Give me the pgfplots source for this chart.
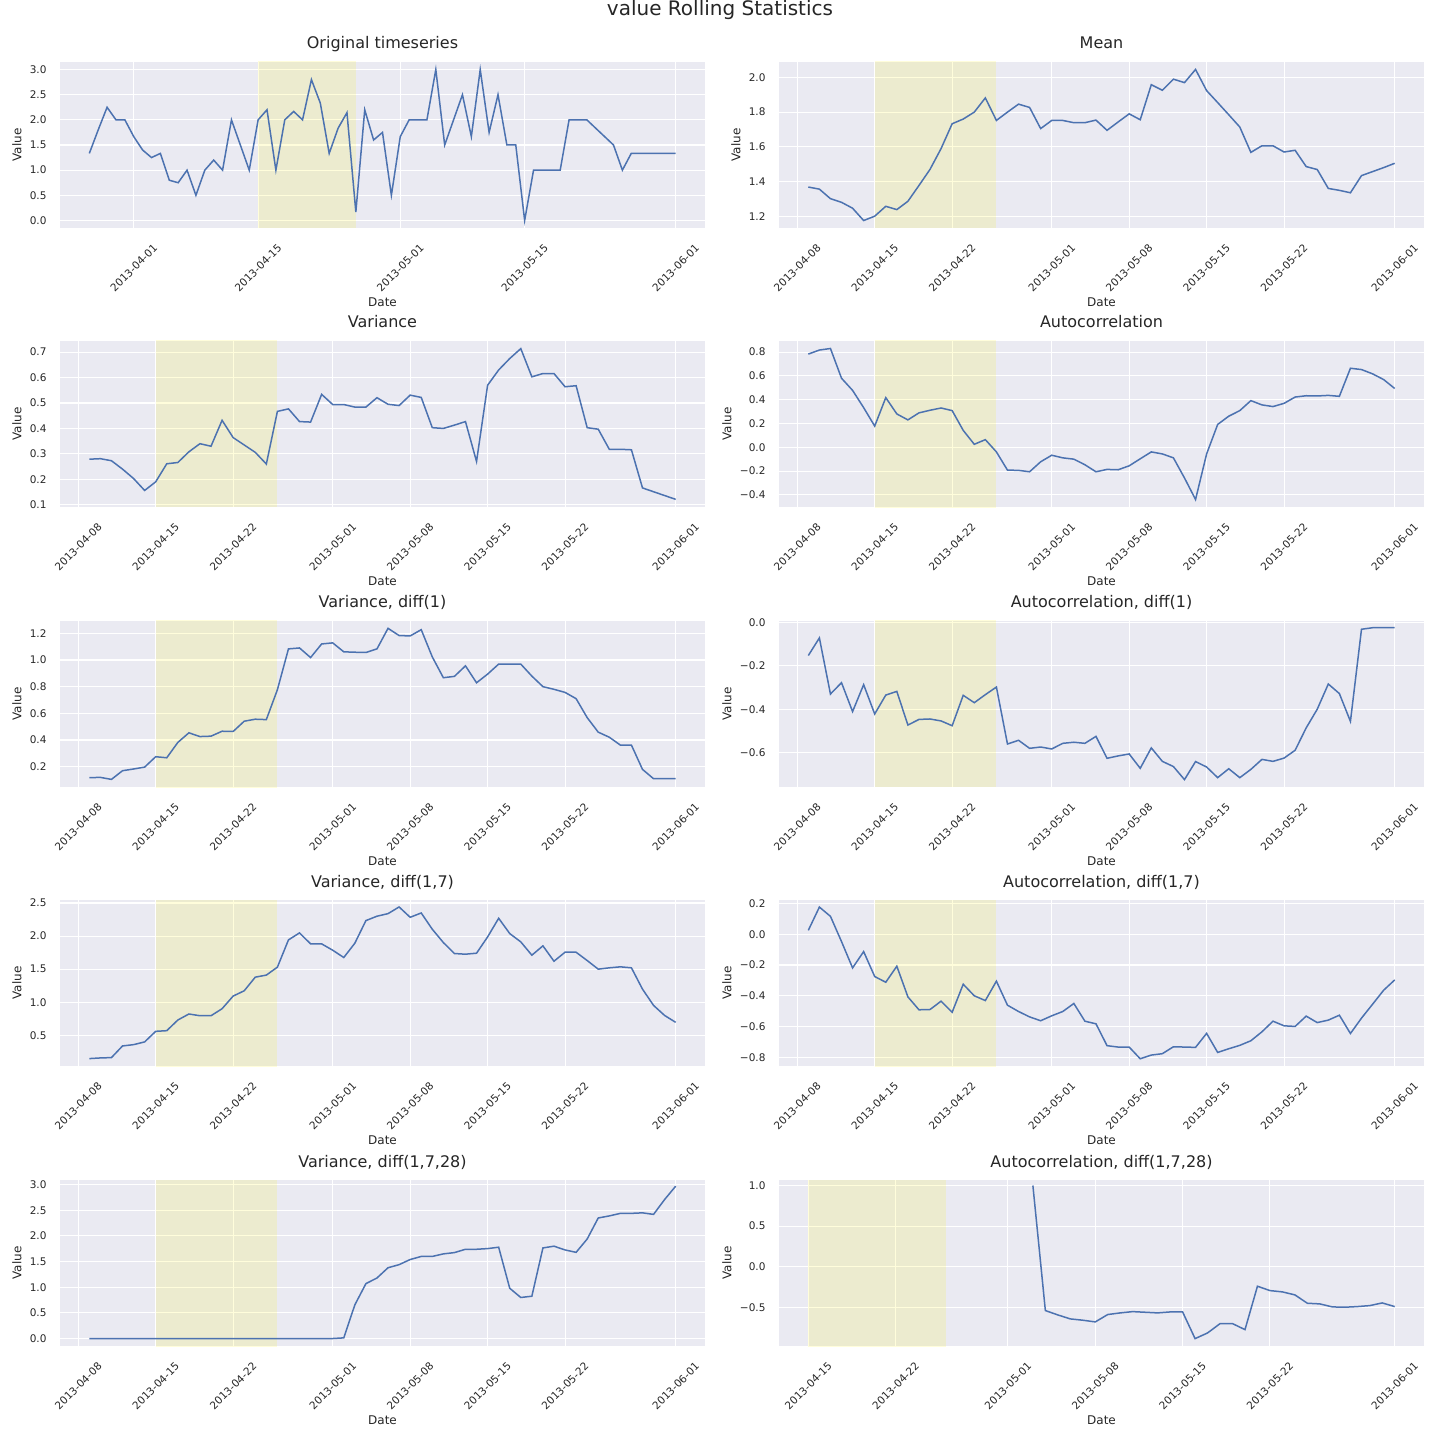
\documentclass[border=0pt]{standalone}
\usepackage{fontspec}
\setmainfont{DejaVu Sans}
\usepackage{pgfplots}
\pgfplotsset{compat=1.18}
\definecolor{bgc}{HTML}{EAEAF2}
\definecolor{tc}{HTML}{262626}
\definecolor{lc}{HTML}{4C72B0}
\pgfplotsset{
 rs/.style={
  scale only axis, width=645pt, height=166pt, anchor=north west,
  axis background/.style={fill=bgc},
  axis line style={draw=none},
  xmajorgrids, ymajorgrids,
  major grid style={white, line width=1.1pt},
  major tick length=0pt,
  tick style={draw=none},
  /pgf/number format/assume math mode=true,
  tick label style={font=\fontsize{10.5}{12}\selectfont, text=tc},
  xticklabel style={anchor=center, yshift=-40pt, rotate=45},
  yticklabel style={anchor=east, xshift=-10pt},
  xlabel={Date}, ylabel={Value},
  every axis x label/.style={at={(axis description cs:0.5,-0.446)}, anchor=center, font=\fontsize{12}{14}\selectfont, text=tc},
  every axis y label/.style={at={(axis description cs:-0.0667,0.5)}, anchor=center, rotate=90, font=\fontsize{12}{14}\selectfont, text=tc},
  title style={at={(axis description cs:0.5,1)}, anchor=base, yshift=7pt, font=\fontsize{16}{19}\selectfont, text=tc},
  xtick={7,14,21,30,37,44,51,61},
  xticklabels={2013-04-08,2013-04-15,2013-04-22,2013-05-01,2013-05-08,2013-05-15,2013-05-22,2013-06-01},
  xmin=5.35, xmax=63.65,
 },
 negy/.style={every axis y label/.style={at={(axis description cs:-0.0806,0.5)}, anchor=center, rotate=90, font=\fontsize{12}{14}\selectfont, text=tc}},
 ser/.style={lc, line width=1.5pt, mark=none},
 span/.style={draw=none, fill=yellow, fill opacity=0.14, forget plot},
}
\begin{document}
\begin{tikzpicture}
\useasboundingbox (0pt,0pt) rectangle (1440pt,-1440pt);
\node[font=\fontsize{20}{24}\selectfont, text=tc, anchor=base] at (720pt,-15.5pt) {value Rolling Statistics};

% ---------- Row 1 left: Original ----------
\begin{axis}[rs, at={(60pt,-62pt)}, title={Original timeseries},
  xmin=-8.3, xmax=64.3, xtick={0,14,30,44,61},
  xticklabels={2013-04-01,2013-04-15,2013-05-01,2013-05-15,2013-06-01},
  ymin=-0.15, ymax=3.15, ytick={0,0.5,1,1.5,2,2.5,3},
  yticklabels={0.0,0.5,1.0,1.5,2.0,2.5,3.0}]
\addplot[span] coordinates {(14,-5) (25,-5) (25,5) (14,5)} -- cycle;
\addplot[ser] table {
x y
-5 1.333
-4 1.8
-3 2.25
-2 2.0
-1 2.0
0 1.667
1 1.4
2 1.25
3 1.333
4 0.8
5 0.75
6 1.0
7 0.5
8 1.0
9 1.2
10 1.0
11 2.0
12 1.5
13 1.0
14 2.0
15 2.2
16 1.0
17 2.0
18 2.167
19 2.0
20 2.8
21 2.333
22 1.333
23 1.833
24 2.143
25 0.167
26 2.2
27 1.6
28 1.75
29 0.5
30 1.667
31 2.0
32 2.0
33 2.0
34 3.0
35 1.5
36 2.0
37 2.5
38 1.667
39 3.0
40 1.75
41 2.5
42 1.5
43 1.5
44 0.0
45 1.0
46 1.0
47 1.0
48 1.0
49 2.0
50 2.0
51 2.0
52 1.833
53 1.667
54 1.5
55 1.0
56 1.333
57 1.333
58 1.333
59 1.333
60 1.333
61 1.333
};
\end{axis}

% ---------- Row 1 right: Mean ----------
\begin{axis}[rs, at={(779pt,-62pt)}, title={Mean},
  ymin=1.132, ymax=2.089, ytick={1.2,1.4,1.6,1.8,2.0},
  yticklabels={1.2,1.4,1.6,1.8,2.0}]
\addplot[span] coordinates {(14,-5) (25,-5) (25,5) (14,5)} -- cycle;
\addplot[ser] table {
x y
8 1.368
9 1.356
10 1.301
11 1.280
12 1.246
13 1.175
14 1.200
15 1.257
16 1.238
17 1.286
18 1.377
19 1.470
20 1.590
21 1.733
22 1.760
23 1.800
24 1.882
25 1.752
26 1.800
27 1.846
28 1.827
29 1.705
30 1.752
31 1.752
32 1.739
33 1.739
34 1.754
35 1.695
36 1.743
37 1.790
38 1.756
39 1.958
40 1.926
41 1.990
42 1.970
43 2.046
44 1.924
45 1.855
46 1.785
47 1.714
48 1.568
49 1.606
50 1.606
51 1.570
52 1.580
53 1.486
54 1.469
55 1.360
56 1.349
57 1.335
58 1.434
59 1.457
60 1.480
61 1.505
};
\end{axis}

% ---------- Row 2 left: Variance ----------
\begin{axis}[rs, at={(60pt,-341pt)}, title={Variance},
  ymin=0.091, ymax=0.744, ytick={0.1,0.2,0.3,0.4,0.5,0.6,0.7},
  yticklabels={0.1,0.2,0.3,0.4,0.5,0.6,0.7}]
\addplot[span] coordinates {(14,-5) (25,-5) (25,5) (14,5)} -- cycle;
\addplot[ser] table {
x y
8 0.279
9 0.281
10 0.273
11 0.240
12 0.203
13 0.156
14 0.190
15 0.261
16 0.266
17 0.308
18 0.340
19 0.330
20 0.432
21 0.364
22 0.335
23 0.306
24 0.260
25 0.467
26 0.477
27 0.427
28 0.425
29 0.534
30 0.494
31 0.494
32 0.484
33 0.484
34 0.521
35 0.495
36 0.490
37 0.531
38 0.522
39 0.403
40 0.400
41 0.413
42 0.427
43 0.270
44 0.570
45 0.630
46 0.675
47 0.714
48 0.603
49 0.616
50 0.616
51 0.564
52 0.568
53 0.403
54 0.397
55 0.318
56 0.318
57 0.316
58 0.166
59 0.151
60 0.136
61 0.121
};
\end{axis}

% ---------- Row 2 right: Autocorrelation ----------
\begin{axis}[rs, negy, at={(779pt,-341pt)}, title={Autocorrelation},
  ymin=-0.502, ymax=0.893, ytick={-0.4,-0.2,0,0.2,0.4,0.6,0.8},
  yticklabels={−0.4,−0.2,0.0,0.2,0.4,0.6,0.8}]
\addplot[span] coordinates {(14,-5) (25,-5) (25,5) (14,5)} -- cycle;
\addplot[ser] table {
x y
8 0.783
9 0.817
10 0.830
11 0.580
12 0.478
13 0.333
14 0.178
15 0.417
16 0.280
17 0.230
18 0.289
19 0.311
20 0.330
21 0.308
22 0.142
23 0.025
24 0.064
25 -0.039
26 -0.192
27 -0.194
28 -0.206
29 -0.122
30 -0.067
31 -0.089
32 -0.100
33 -0.147
34 -0.206
35 -0.186
36 -0.189
37 -0.156
38 -0.097
39 -0.039
40 -0.056
41 -0.089
42 -0.258
43 -0.439
44 -0.056
45 0.192
46 0.261
47 0.308
48 0.392
49 0.356
50 0.342
51 0.369
52 0.422
53 0.433
54 0.431
55 0.436
56 0.428
57 0.664
58 0.653
59 0.617
60 0.569
61 0.494
};
\end{axis}

% ---------- Row 3 left: Variance diff(1) ----------
\begin{axis}[rs, at={(60pt,-621pt)}, title={Variance, diff(1)},
  ymin=0.048, ymax=1.292, ytick={0.2,0.4,0.6,0.8,1.0,1.2},
  yticklabels={0.2,0.4,0.6,0.8,1.0,1.2}]
\addplot[span] coordinates {(14,-5) (25,-5) (25,5) (14,5)} -- cycle;
\addplot[ser] table {
x y
8 0.118
9 0.120
10 0.105
11 0.170
12 0.183
13 0.197
14 0.275
15 0.267
16 0.382
17 0.454
18 0.426
19 0.429
20 0.466
21 0.464
22 0.541
23 0.556
24 0.553
25 0.777
26 1.083
27 1.090
28 1.018
29 1.120
30 1.128
31 1.061
32 1.058
33 1.056
34 1.083
35 1.237
36 1.183
37 1.180
38 1.227
39 1.023
40 0.867
41 0.877
42 0.956
43 0.829
44 0.894
45 0.969
46 0.969
47 0.969
48 0.879
49 0.800
50 0.780
51 0.757
52 0.710
53 0.568
54 0.459
55 0.421
56 0.362
57 0.362
58 0.180
59 0.110
60 0.110
61 0.110
};
\end{axis}

% ---------- Row 3 right: Autocorrelation diff(1) ----------
\begin{axis}[rs, negy, at={(779pt,-621pt)}, title={Autocorrelation, diff(1)},
  ymin=-0.758, ymax=0.006, ytick={-0.6,-0.4,-0.2,0},
  yticklabels={−0.6,−0.4,−0.2,0.0}]
\addplot[span] coordinates {(14,-5) (25,-5) (25,5) (14,5)} -- cycle;
\addplot[ser] table {
x y
8 -0.153
9 -0.072
10 -0.330
11 -0.278
12 -0.411
13 -0.287
14 -0.422
15 -0.335
16 -0.318
17 -0.473
18 -0.447
19 -0.445
20 -0.454
21 -0.476
22 -0.336
23 -0.370
24 -0.333
25 -0.298
26 -0.560
27 -0.543
28 -0.580
29 -0.574
30 -0.583
31 -0.557
32 -0.552
33 -0.557
34 -0.525
35 -0.626
36 -0.615
37 -0.606
38 -0.672
39 -0.578
40 -0.640
41 -0.664
42 -0.724
43 -0.641
44 -0.666
45 -0.715
46 -0.674
47 -0.715
48 -0.677
49 -0.631
50 -0.640
51 -0.625
52 -0.589
53 -0.486
54 -0.400
55 -0.284
56 -0.328
57 -0.456
58 -0.032
59 -0.025
60 -0.025
61 -0.025
};
\end{axis}

% ---------- Row 4 left: Variance diff(1,7) ----------
\begin{axis}[rs, at={(60pt,-900pt)}, title={Variance, diff(1,7)},
  ymin=0.036, ymax=2.545, ytick={0.5,1.0,1.5,2.0,2.5},
  yticklabels={0.5,1.0,1.5,2.0,2.5}]
\addplot[span] coordinates {(14,-5) (25,-5) (25,5) (14,5)} -- cycle;
\addplot[ser] table {
x y
8 0.148
9 0.158
10 0.163
11 0.339
12 0.359
13 0.400
14 0.560
15 0.570
16 0.731
17 0.822
18 0.796
19 0.796
20 0.902
21 1.093
22 1.173
23 1.379
24 1.410
25 1.530
26 1.942
27 2.048
28 1.882
29 1.882
30 1.786
31 1.676
32 1.892
33 2.234
34 2.300
35 2.339
36 2.440
37 2.284
38 2.349
39 2.103
40 1.902
41 1.736
42 1.726
43 1.741
44 1.987
45 2.269
46 2.038
47 1.912
48 1.711
49 1.852
50 1.620
51 1.756
52 1.756
53 1.630
54 1.500
55 1.520
56 1.535
57 1.520
58 1.198
59 0.952
60 0.800
61 0.696
};
\end{axis}

% ---------- Row 4 right: Autocorrelation diff(1,7) ----------
\begin{axis}[rs, negy, at={(779pt,-900pt)}, title={Autocorrelation, diff(1,7)},
  ymin=-0.856, ymax=0.222, ytick={-0.8,-0.6,-0.4,-0.2,0,0.2},
  yticklabels={−0.8,−0.6,−0.4,−0.2,0.0,0.2}]
\addplot[span] coordinates {(14,-5) (25,-5) (25,5) (14,5)} -- cycle;
\addplot[ser] table {
x y
8 0.025
9 0.176
10 0.116
11 -0.048
12 -0.219
13 -0.113
14 -0.275
15 -0.312
16 -0.208
17 -0.407
18 -0.491
19 -0.489
20 -0.435
21 -0.507
22 -0.325
23 -0.400
24 -0.431
25 -0.305
26 -0.461
27 -0.502
28 -0.537
29 -0.562
30 -0.530
31 -0.502
32 -0.450
33 -0.565
34 -0.582
35 -0.724
36 -0.733
37 -0.733
38 -0.809
39 -0.785
40 -0.776
41 -0.731
42 -0.733
43 -0.735
44 -0.644
45 -0.768
46 -0.744
47 -0.722
48 -0.692
49 -0.634
50 -0.565
51 -0.595
52 -0.599
53 -0.532
54 -0.574
55 -0.558
56 -0.526
57 -0.645
58 -0.545
59 -0.455
60 -0.364
61 -0.297
};
\end{axis}

% ---------- Row 5 left: Variance diff(1,7,28) ----------
\begin{axis}[rs, at={(60pt,-1180pt)}, title={Variance, diff(1,7,28)},
  ymin=-0.146, ymax=3.09, ytick={0,0.5,1.0,1.5,2.0,2.5,3.0},
  yticklabels={0.0,0.5,1.0,1.5,2.0,2.5,3.0}]
\addplot[span] coordinates {(14,-5) (25,-5) (25,5) (14,5)} -- cycle;
\addplot[ser] table {
x y
8 0
9 0
10 0
11 0
12 0
13 0
14 0
15 0
16 0
17 0
18 0
19 0
20 0
21 0
22 0
23 0
24 0
25 0
26 0
27 0
28 0
29 0
30 0
31 0.013
32 0.656
33 1.070
34 1.180
35 1.380
36 1.440
37 1.540
38 1.600
39 1.600
40 1.650
41 1.675
42 1.740
43 1.740
44 1.753
45 1.780
46 0.980
47 0.800
48 0.825
49 1.766
50 1.800
51 1.727
52 1.680
53 1.940
54 2.350
55 2.390
56 2.440
57 2.440
58 2.450
59 2.420
60 2.710
61 2.970
};
\end{axis}

% ---------- Row 5 right: Autocorrelation diff(1,7,28) ----------
\begin{axis}[rs, negy, at={(779pt,-1180pt)}, title={Autocorrelation, diff(1,7,28)},
  xmin=11.65, xmax=63.35, xtick={14,21,30,37,44,51,61},
  xticklabels={2013-04-15,2013-04-22,2013-05-01,2013-05-08,2013-05-15,2013-05-22,2013-06-01},
  ymin=-0.978, ymax=1.068, ytick={-0.5,0,0.5,1.0},
  yticklabels={−0.5,0.0,0.5,1.0}]
\addplot[span] coordinates {(14,-5) (25,-5) (25,5) (14,5)} -- cycle;
\addplot[ser] table {
x y
32 1.000
33 -0.541
34 -0.595
35 -0.644
36 -0.660
37 -0.681
38 -0.590
39 -0.570
40 -0.554
41 -0.562
42 -0.570
43 -0.558
44 -0.558
45 -0.887
46 -0.817
47 -0.702
48 -0.702
49 -0.776
50 -0.241
51 -0.295
52 -0.311
53 -0.348
54 -0.451
55 -0.459
56 -0.496
57 -0.500
58 -0.492
59 -0.480
60 -0.447
61 -0.492
};
\end{axis}
\end{tikzpicture}
\end{document}
